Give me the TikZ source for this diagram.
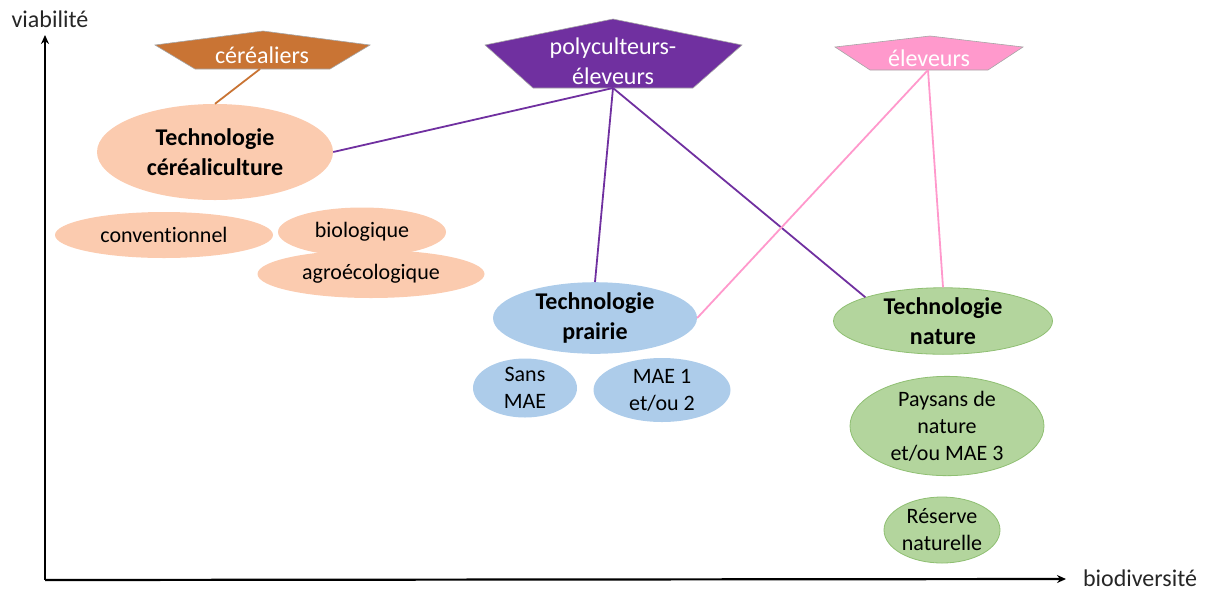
\documentclass[tikz,border=0pt]{standalone}
\usepackage{fontspec}
\setmainfont{Carlito}[Ligatures=NoCommon]
\usetikzlibrary{shapes.geometric,arrows.meta}
\definecolor{cerC}{HTML}{C97434}
\definecolor{polC}{HTML}{7030A0}
\definecolor{eleC}{HTML}{FF99CC}
\definecolor{lorange}{HTML}{FBCBAF}
\definecolor{lblue}{HTML}{ADCCEA}
\definecolor{lgreen}{HTML}{B3D59D}
\definecolor{dgreen}{HTML}{8FBF72}
\tikzset{
  ell/.style={ellipse,inner sep=0pt,align=center,font=\fontsize{22}{27}\selectfont},
  tech/.style={ell,font=\fontsize{24}{30}\selectfont\bfseries},
  oell/.style={fill=lorange},
  bell/.style={fill=lblue},
  gell/.style={fill=lgreen,draw=dgreen,line width=0.8pt},
  pent/.style={draw=black!35,line width=0.6pt},
  ptext/.style={text=white,align=center,font=\fontsize{24}{30}\selectfont},
  conn/.style={line width=1.8pt},
  axis/.style={line width=2.2pt,-{Stealth[length=9pt,width=8pt]}},
  albl/.style={font=\fontsize{24}{28}\selectfont,text=black!85}
}
\begin{document}
\begin{tikzpicture}[x=1pt,y=-1pt]
\useasboundingbox (0,0) rectangle (1209,590);
% axes
\coordinate (o) at (45,580);
\coordinate (ytop) at (45,35);
\coordinate (xend) at (1066,579);
\draw[axis] (o) -- (ytop);
\draw[axis] (o) -- (xend);
\node[albl] (viab) at (50,19) {viabilité};
\node[albl] (biod) at (1140,578) {biodiversité};
% pentagons
\filldraw[pent,fill=cerC] (263,31) -- (370,45) -- (330,69) -- (195,69) -- (155,45) -- cycle;
\node[ptext] (cer) at (262,55) {céréaliers};
\coordinate (cerb) at (260,69);
\filldraw[pent,fill=polC] (613,19) -- (742,45) -- (693,88) -- (533,88) -- (485,45) -- cycle;
\node[ptext] (pol) at (613,61) {polyculteurs-\\éleveurs};
\coordinate (polb) at (613,88);
\filldraw[pent,fill=eleC] (930,36) -- (1023,47) -- (988,70) -- (870,70) -- (835,47) -- cycle;
\node[ptext] (ele) at (929,58) {éleveurs};
\coordinate (eleb) at (928,70);
% ellipses
\node[tech,oell,minimum width=236pt,minimum height=96pt] (tc) at (215,152) {Technologie\\céréaliculture};
\node[ell,oell,minimum width=218pt,minimum height=46pt] (conv) at (164,235) {conventionnel};
\node[ell,oell,minimum width=227pt,minimum height=48pt] (agro) at (371,274) {agroécologique};
\node[ell,oell,minimum width=168pt,minimum height=49pt] (bio) at (362,232) {biologique};
\node[tech,bell,minimum width=204pt,minimum height=61pt] (tp) at (595,318) {Technologie\\prairie};
\node[ell,bell,minimum width=104pt,minimum height=59pt] (sans) at (525,388) {Sans\\MAE};
\node[ell,bell,minimum width=137pt,minimum height=64pt] (mae) at (662,390) {MAE 1\\et/ou 2};
\node[tech,gell,minimum width=219pt,minimum height=66pt] (tn) at (943,321) {Technologie\\nature};
\node[ell,gell,minimum width=194pt,minimum height=92pt] (pays) at (947,426) {Paysans de\\nature\\et/ou MAE 3};
\node[ell,gell,minimum width=116pt,minimum height=66pt] (res) at (942,530) {Réserve\\naturelle};
% connectors
\draw[conn,draw=cerC] (cerb) -- (tc.north);
\draw[conn,draw=polC] (polb) -- (tc.east);
\draw[conn,draw=polC] (polb) -- (tp.north);
\draw[conn,draw=polC] (polb) -- (tn.north west);
\draw[conn,draw=eleC] (eleb) -- (tp.east);
\draw[conn,draw=eleC] (eleb) -- (tn.north);
\end{tikzpicture}
\end{document}
